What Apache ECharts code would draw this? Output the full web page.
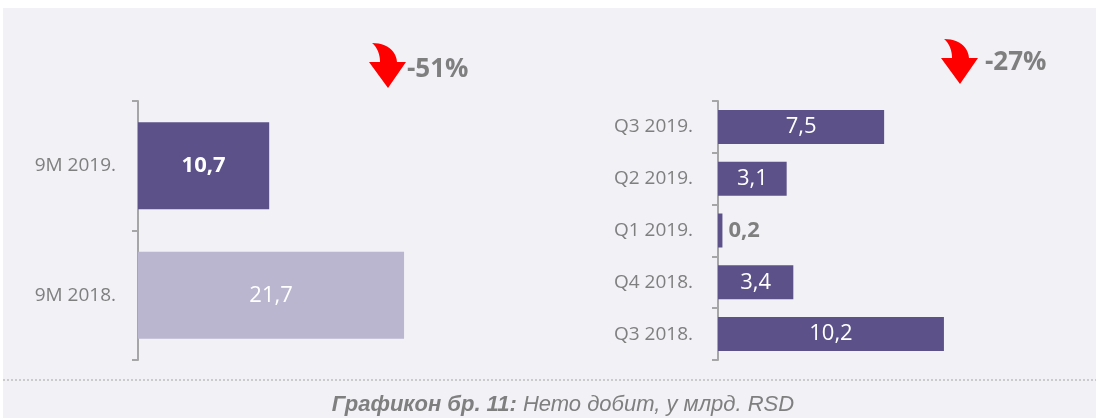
<!DOCTYPE html>
<html lang="en">
<head>
    <meta charset="UTF-8">
    <title>Нето добит</title>
    <style>
        html, body { margin: 0; padding: 0; background: #ffffff; }
        #chart { width: 1096px; height: 418px; }
    </style>
</head>
<body>
<div id="chart"></div>
<script src="https://cdn.jsdelivr.net/npm/echarts@6/dist/echarts.min.js"></script>
<script>
    // podaci
    var ytdCategories = ['9M 2019.', '9M 2018.'];
    var ytdValues = [10.7, 21.7];
    var ytdChange = '-51%';

    var qCategories = ['Q3 2019.', 'Q2 2019.', 'Q1 2019.', 'Q4 2018.', 'Q3 2018.'];
    var qValues = [7.5, 3.1, 0.2, 3.4, 10.2];
    var qChange = '-27%';

    var captionBold = 'Графикон бр. 11:';
    var captionText = ' Нето добит, у млрд. RSD';

    var DARK = '#5c5189';
    var LIGHT = '#bab6d0';
    var GREY = '#7f7f7f';
    var FONT = '"Open Sans", sans-serif';

    function fmt(v) {
        return v.toFixed(1).replace('.', ',');
    }

    var chart = echarts.init(document.getElementById('chart'));

    var ytdData = ytdValues.map(function (v, i) {
        return {
            value: v,
            itemStyle: { color: i === 0 ? DARK : LIGHT },
            label: { fontWeight: i === 0 ? 'bold' : 'normal' }
        };
    });

    var qData = qValues.map(function (v) {
        // mala vrednost - oznaka van stubica
        if (v < 1) {
            return {
                value: v,
                label: { position: 'right', color: GREY, fontWeight: 'bold', distance: 6 }
            };
        }
        return v;
    });

    function catAxis(idx, cats, margin) {
        return {
            type: 'category',
            gridIndex: idx,
            data: cats,
            inverse: true,
            axisLine: { show: true, lineStyle: { color: '#a6a6a6', width: 2 } },
            axisTick: { show: true, length: 6, lineStyle: { color: '#a6a6a6', width: 2 } },
            axisLabel: { color: GREY, fontSize: 19, fontFamily: FONT, margin: margin }
        };
    }

    // tacke kubne krive
    function bez(p0, p1, p2, p3, n) {
        var pts = [];
        for (var i = 0; i <= n; i++) {
            var t = i / n, u = 1 - t;
            pts.push([
                u * u * u * p0[0] + 3 * u * u * t * p1[0] + 3 * u * t * t * p2[0] + t * t * t * p3[0],
                u * u * u * p0[1] + 3 * u * u * t * p1[1] + 3 * u * t * t * p2[1] + t * t * t * p3[1]
            ]);
        }
        return pts;
    }

    // crvena zakrivljena strelica
    function arrow(x, y) {
        var pts = bez([3, 0], [17, 0], [27, 7], [28, 19], 12)
            .concat([[37, 19], [19, 45], [0, 19], [11, 19]])
            .concat(bez([11, 19], [11, 11], [8, 4], [3, 0], 12));
        return {
            type: 'polygon',
            x: x, y: y,
            shape: { points: pts },
            style: { fill: '#ff0000' }
        };
    }

    var option = {
        backgroundColor: '#ffffff',
        animation: false,
        graphic: [
            { type: 'rect', z: -10, shape: { x: 3, y: 8, width: 1093, height: 410 }, style: { fill: '#f1f1f6' } },
            { type: 'line', shape: { x1: 3, y1: 380, x2: 1096, y2: 380 }, style: { stroke: '#a6a6a6', lineWidth: 1, lineDash: [2, 2] } },
            arrow(369, 43),
            { type: 'text', x: 407, y: 70, style: { text: ytdChange, fill: GREY, font: 'bold 26px "Open Sans", sans-serif', verticalAlign: 'middle' } },
            arrow(941, 39),
            { type: 'text', x: 985, y: 63, style: { text: qChange, fill: GREY, font: 'bold 26px "Open Sans", sans-serif', verticalAlign: 'middle' } },
            {
                type: 'text', x: 563, y: 405,
                style: {
                    text: '{b|' + captionBold + '}{n|' + captionText + '}',
                    align: 'center', verticalAlign: 'middle',
                    rich: {
                        b: { fontFamily: '"Liberation Sans Narrow", sans-serif', fontStyle: 'italic', fontWeight: 'bold', fontSize: 22, fill: GREY },
                        n: { fontFamily: '"Liberation Sans Narrow", sans-serif', fontStyle: 'italic', fontSize: 22, fill: GREY }
                    }
                }
            }
        ],
        grid: [
            { left: 138, top: 101, width: 306.5, height: 259 },
            { left: 718, top: 101, width: 265.8, height: 259 }
        ],
        xAxis: [
            { type: 'value', gridIndex: 0, min: 0, max: 25, show: false },
            { type: 'value', gridIndex: 1, min: 0, max: 12, show: false }
        ],
        yAxis: [catAxis(0, ytdCategories, 22), catAxis(1, qCategories, 25)],
        series: [
            {
                type: 'bar',
                xAxisIndex: 0, yAxisIndex: 0,
                barWidth: 87,
                data: ytdData,
                label: {
                    show: true, position: 'inside', color: '#ffffff',
                    fontSize: 22, fontFamily: FONT,
                    formatter: function (p) { return fmt(p.value); }
                }
            },
            {
                type: 'bar',
                xAxisIndex: 1, yAxisIndex: 1,
                barWidth: 34,
                itemStyle: { color: DARK },
                data: qData,
                label: {
                    show: true, position: 'inside', color: '#ffffff',
                    fontSize: 22, fontFamily: FONT,
                    formatter: function (p) { return fmt(p.value); }
                }
            }
        ]
    };

    chart.setOption(option);
</script>
</body>
</html>
